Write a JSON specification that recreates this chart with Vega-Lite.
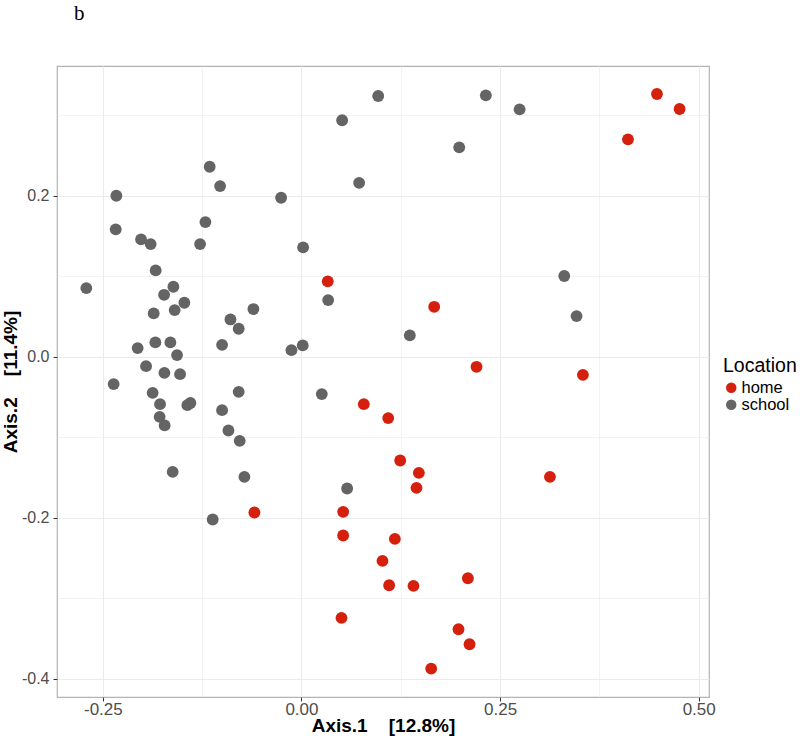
{
  "$schema": "https://vega.github.io/schema/vega-lite/v6.json",
  "width": 652,
  "height": 631,
  "autosize": {"type": "none"},
  "padding": {"left": 57, "top": 66, "right": 91, "bottom": 42},
  "background": "white",
  "config": {
    "view": {"stroke": "#b3b3b3", "strokeWidth": 1.2},
    "font": "Liberation Sans"
  },
  "title": {"text": "b", "anchor": "start", "frame": "group", "orient": "top", "baseline": "alphabetic", "offset": 25, "dx": 17, "font": "Liberation Serif", "fontSize": 21, "fontWeight": "normal", "color": "#000000"},
  "data": {"values": [
    {"x": 0.0966, "y": 0.3239, "Location": "school"},
    {"x": 0.0512, "y": 0.2937, "Location": "school"},
    {"x": -0.1155, "y": 0.236, "Location": "school"},
    {"x": -0.1024, "y": 0.212, "Location": "school"},
    {"x": 0.0726, "y": 0.216, "Location": "school"},
    {"x": -0.233, "y": 0.2, "Location": "school"},
    {"x": -0.0256, "y": 0.1975, "Location": "school"},
    {"x": -0.2338, "y": 0.1583, "Location": "school"},
    {"x": -0.1209, "y": 0.1673, "Location": "school"},
    {"x": -0.2019, "y": 0.1458, "Location": "school"},
    {"x": -0.1898, "y": 0.14, "Location": "school"},
    {"x": -0.1276, "y": 0.14, "Location": "school"},
    {"x": 0.0021, "y": 0.1359, "Location": "school"},
    {"x": -0.1835, "y": 0.1073, "Location": "school"},
    {"x": -0.2708, "y": 0.0853, "Location": "school"},
    {"x": -0.1612, "y": 0.087, "Location": "school"},
    {"x": -0.1729, "y": 0.077, "Location": "school"},
    {"x": -0.1474, "y": 0.0671, "Location": "school"},
    {"x": -0.186, "y": 0.0539, "Location": "school"},
    {"x": -0.1596, "y": 0.058, "Location": "school"},
    {"x": -0.0605, "y": 0.0593, "Location": "school"},
    {"x": 0.0336, "y": 0.0704, "Location": "school"},
    {"x": -0.0894, "y": 0.0464, "Location": "school"},
    {"x": -0.079, "y": 0.0348, "Location": "school"},
    {"x": -0.2062, "y": 0.0108, "Location": "school"},
    {"x": -0.1839, "y": 0.0179, "Location": "school"},
    {"x": -0.165, "y": 0.0179, "Location": "school"},
    {"x": -0.1566, "y": 0.0021, "Location": "school"},
    {"x": -0.0999, "y": 0.0149, "Location": "school"},
    {"x": -0.0126, "y": 0.0083, "Location": "school"},
    {"x": 0.0016, "y": 0.0142, "Location": "school"},
    {"x": -0.1956, "y": -0.0116, "Location": "school"},
    {"x": -0.1725, "y": -0.0199, "Location": "school"},
    {"x": -0.1528, "y": -0.0215, "Location": "school"},
    {"x": -0.2364, "y": -0.0339, "Location": "school"},
    {"x": -0.1873, "y": -0.0447, "Location": "school"},
    {"x": -0.079, "y": -0.0435, "Location": "school"},
    {"x": -0.178, "y": -0.0588, "Location": "school"},
    {"x": -0.1436, "y": -0.06, "Location": "school"},
    {"x": -0.1398, "y": -0.0573, "Location": "school"},
    {"x": -0.0999, "y": -0.0662, "Location": "school"},
    {"x": -0.1785, "y": -0.0745, "Location": "school"},
    {"x": -0.1722, "y": -0.0852, "Location": "school"},
    {"x": -0.0919, "y": -0.0915, "Location": "school"},
    {"x": -0.0777, "y": -0.1043, "Location": "school"},
    {"x": -0.1621, "y": -0.1429, "Location": "school"},
    {"x": -0.0718, "y": -0.149, "Location": "school"},
    {"x": 0.0256, "y": -0.0463, "Location": "school"},
    {"x": 0.0575, "y": -0.1635, "Location": "school"},
    {"x": -0.1117, "y": -0.202, "Location": "school"},
    {"x": 0.2321, "y": 0.3247, "Location": "school"},
    {"x": 0.2746, "y": 0.3073, "Location": "school"},
    {"x": 0.1986, "y": 0.2601, "Location": "school"},
    {"x": 0.3308, "y": 0.1003, "Location": "school"},
    {"x": 0.3463, "y": 0.0506, "Location": "school"},
    {"x": 0.1364, "y": 0.0266, "Location": "school"},
    {"x": 0.0331, "y": 0.0937, "Location": "home"},
    {"x": -0.0592, "y": -0.1933, "Location": "home"},
    {"x": 0.0785, "y": -0.0588, "Location": "home"},
    {"x": 0.0525, "y": -0.1925, "Location": "home"},
    {"x": 0.0525, "y": -0.2219, "Location": "home"},
    {"x": 0.0504, "y": -0.3242, "Location": "home"},
    {"x": 0.2204, "y": -0.0124, "Location": "home"},
    {"x": 0.3543, "y": -0.0224, "Location": "home"},
    {"x": 0.1092, "y": -0.0761, "Location": "home"},
    {"x": 0.1243, "y": -0.1287, "Location": "home"},
    {"x": 0.1478, "y": -0.1441, "Location": "home"},
    {"x": 0.3128, "y": -0.149, "Location": "home"},
    {"x": 0.1448, "y": -0.1627, "Location": "home"},
    {"x": 0.1176, "y": -0.2261, "Location": "home"},
    {"x": 0.102, "y": -0.2534, "Location": "home"},
    {"x": 0.1104, "y": -0.2836, "Location": "home"},
    {"x": 0.141, "y": -0.2845, "Location": "home"},
    {"x": 0.2095, "y": -0.2749, "Location": "home"},
    {"x": 0.1977, "y": -0.3383, "Location": "home"},
    {"x": 0.2116, "y": -0.3569, "Location": "home"},
    {"x": 0.1633, "y": -0.3871, "Location": "home"},
    {"x": 0.4475, "y": 0.3263, "Location": "home"},
    {"x": 0.476, "y": 0.3077, "Location": "home"},
    {"x": 0.411, "y": 0.27, "Location": "home"},
    {"x": 0.1671, "y": 0.0621, "Location": "home"}
  ]},
  "mark": {"type": "point", "filled": true, "opacity": 1, "size": 140, "shape": "circle", "strokeWidth": 0},
  "encoding": {
    "x": {
      "field": "x", "type": "quantitative",
      "scale": {"domain": [-0.3077, 0.513], "nice": false, "zero": false},
      "axis": {
        "title": "Axis.1\u00a0\u00a0\u00a0 [12.8%]",
        "values": [-0.25, -0.125, 0, 0.125, 0.25, 0.375, 0.5],
        "labelExpr": "abs(datum.value*4 - round(datum.value*4)) > 0.01 ? '' : replace(format(datum.value, '.2f'), '\u2212', '-')",
        "domain": false,
        "grid": true,
        "gridColor": "#ebebeb",
        "gridWidth": {"condition": {"test": "abs(datum.value*4 - round(datum.value*4)) > 0.01", "value": 0.6}, "value": 1.1},
        "tickOpacity": {"condition": {"test": "abs(datum.value*4 - round(datum.value*4)) > 0.01", "value": 0}, "value": 1},
        "tickColor": "#333333",
        "tickSize": 4,
        "labelColor": "#4d4d4d",
        "labelFontSize": 17,
        "labelPadding": 0,
        "titleFontSize": 19,
        "titleFontWeight": "bold",
        "titleColor": "#000000",
        "titlePadding": -1
      }
    },
    "y": {
      "field": "y", "type": "quantitative",
      "scale": {"domain": [-0.4224, 0.3611], "nice": false, "zero": false},
      "axis": {
        "title": "Axis.2\u00a0\u00a0\u00a0 [11.4%]",
        "values": [-0.4, -0.3, -0.2, -0.1, 0, 0.1, 0.2, 0.3],
        "labelExpr": "abs(datum.value*5 - round(datum.value*5)) > 0.01 ? '' : replace(format(datum.value, '.1f'), '\u2212', '-')",
        "domain": false,
        "grid": true,
        "gridColor": "#ebebeb",
        "gridWidth": {"condition": {"test": "abs(datum.value*5 - round(datum.value*5)) > 0.01", "value": 0.6}, "value": 1.1},
        "tickOpacity": {"condition": {"test": "abs(datum.value*5 - round(datum.value*5)) > 0.01", "value": 0}, "value": 1},
        "tickColor": "#333333",
        "tickSize": 4,
        "labelColor": "#4d4d4d",
        "labelFontSize": 16,
        "labelPadding": 4,
        "titleFontSize": 19,
        "titleFontWeight": "bold",
        "titleColor": "#000000",
        "titlePadding": 1
      }
    },
    "color": {
      "field": "Location", "type": "nominal",
      "scale": {"domain": ["home", "school"], "range": ["#d4200c", "#646464"]},
      "legend": {
        "orient": "none",
        "legendX": 666,
        "legendY": 291,
        "title": "Location",
        "titleFontSize": 19.5,
        "titleFontWeight": "normal",
        "titleColor": "#000000",
        "titlePadding": 3,
        "labelFontSize": 16.5,
        "labelColor": "#000000",
        "labelOffset": 2,
        "symbolType": "circle",
        "symbolSize": 110,
        "symbolStrokeWidth": 0,
        "symbolOpacity": 1,
        "rowPadding": -3
      }
    }
  }
}
